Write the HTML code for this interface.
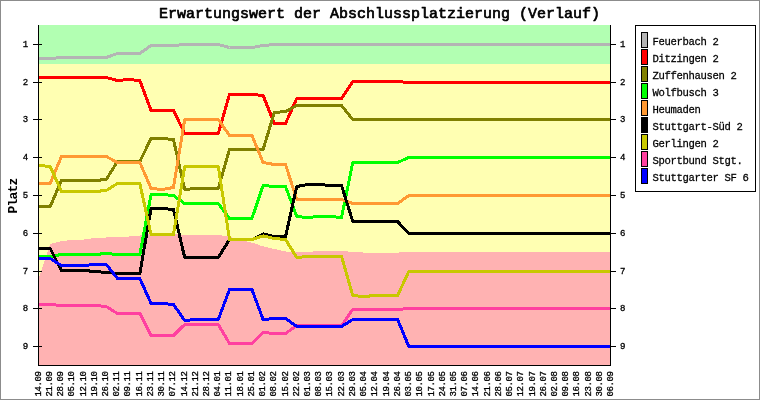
<!DOCTYPE html>
<html><head><meta charset="utf-8"><title>Erwartungswert der Abschlussplatzierung (Verlauf)</title>
<style>html,body{margin:0;padding:0;background:#fff;}svg{display:block;will-change:transform;}text{font-family:"Liberation Mono",monospace;fill:#000;}</style>
</head><body>
<svg width="760" height="400" viewBox="0 0 760 400">
<rect x="0" y="0" width="760" height="400" fill="#ffffff"/>
<g shape-rendering="crispEdges">
<rect x="39" y="25" width="571" height="340" fill="#ffffb2"/>
<rect x="39" y="25" width="571" height="38.5" fill="#b2ffb2"/>
<polygon points="39.00,278.00 50.21,244.00 61.41,241.00 72.62,240.00 83.82,239.50 95.03,238.00 106.24,237.50 117.44,237.00 128.65,236.50 139.85,235.50 151.06,234.00 162.26,233.00 173.47,233.50 184.68,235.00 195.88,235.00 207.09,235.00 218.29,235.00 229.50,236.60 240.71,240.30 251.91,242.60 263.12,246.40 274.32,249.00 285.53,251.50 296.74,251.80 307.94,251.55 319.15,251.45 330.35,251.45 341.56,251.45 352.76,251.55 363.97,252.55 375.18,252.55 386.38,252.55 397.59,252.55 408.79,252.00 420.00,252.00 431.21,252.00 442.41,252.00 453.62,252.00 464.82,252.00 476.03,252.00 487.24,252.00 498.44,252.00 509.65,252.00 520.85,252.00 532.06,252.00 543.26,252.00 554.47,252.00 565.68,252.00 576.88,252.00 588.09,252.00 599.29,252.00 610.50,252.00 610,365 39,365" fill="#ffb2b2"/>
</g>
<g fill="none" stroke-width="3" stroke-linejoin="round" stroke-linecap="butt" shape-rendering="crispEdges">
<polyline stroke="#b4b4b4" points="39.00,58.50 50.21,58.50 61.41,57.50 72.62,57.50 83.82,57.50 95.03,57.50 106.24,57.50 117.44,53.50 128.65,53.50 139.85,53.50 151.06,45.50 162.26,45.50 173.47,45.50 184.68,44.50 195.88,44.50 207.09,44.50 218.29,44.50 229.50,47.50 240.71,47.50 251.91,47.50 263.12,45.50 274.32,44.50 285.53,44.50 296.74,44.50 307.94,44.50 319.15,44.50 330.35,44.50 341.56,44.50 352.76,44.50 363.97,44.50 375.18,44.50 386.38,44.50 397.59,44.50 408.79,44.50 420.00,44.50 431.21,44.50 442.41,44.50 453.62,44.50 464.82,44.50 476.03,44.50 487.24,44.50 498.44,44.50 509.65,44.50 520.85,44.50 532.06,44.50 543.26,44.50 554.47,44.50 565.68,44.50 576.88,44.50 588.09,44.50 599.29,44.50 610.50,44.50"/>
<polyline stroke="#ff0000" points="39.00,77.50 50.21,77.50 61.41,77.50 72.62,77.50 83.82,77.50 95.03,77.50 106.24,77.50 117.44,80.50 128.65,79.50 139.85,80.50 151.06,110.50 162.26,110.50 173.47,110.50 184.68,133.50 195.88,133.50 207.09,133.50 218.29,133.50 229.50,94.50 240.71,94.50 251.91,94.50 263.12,95.50 274.32,123.50 285.53,123.50 296.74,98.50 307.94,98.50 319.15,98.50 330.35,98.50 341.56,98.50 352.76,81.50 363.97,81.50 375.18,81.50 386.38,81.50 397.59,81.50 408.79,82.50 420.00,82.50 431.21,82.50 442.41,82.50 453.62,82.50 464.82,82.50 476.03,82.50 487.24,82.50 498.44,82.50 509.65,82.50 520.85,82.50 532.06,82.50 543.26,82.50 554.47,82.50 565.68,82.50 576.88,82.50 588.09,82.50 599.29,82.50 610.50,82.50"/>
<polyline stroke="#808000" points="39.00,206.50 50.21,206.50 61.41,180.50 72.62,180.50 83.82,180.50 95.03,180.50 106.24,179.50 117.44,161.50 128.65,161.50 139.85,161.50 151.06,138.50 162.26,138.50 173.47,139.50 184.68,189.50 195.88,188.50 207.09,188.50 218.29,188.50 229.50,149.50 240.71,149.50 251.91,149.50 263.12,149.50 274.32,112.50 285.53,111.50 296.74,105.50 307.94,105.50 319.15,105.50 330.35,105.50 341.56,105.50 352.76,119.50 363.97,119.50 375.18,119.50 386.38,119.50 397.59,119.50 408.79,119.50 420.00,119.50 431.21,119.50 442.41,119.50 453.62,119.50 464.82,119.50 476.03,119.50 487.24,119.50 498.44,119.50 509.65,119.50 520.85,119.50 532.06,119.50 543.26,119.50 554.47,119.50 565.68,119.50 576.88,119.50 588.09,119.50 599.29,119.50 610.50,119.50"/>
<polyline stroke="#00ff00" points="39.00,256.50 50.21,256.50 61.41,254.50 72.62,254.50 83.82,254.50 95.03,254.50 106.24,253.50 117.44,254.50 128.65,254.50 139.85,254.50 151.06,194.50 162.26,194.50 173.47,195.50 184.68,203.50 195.88,203.50 207.09,203.50 218.29,203.50 229.50,218.50 240.71,218.50 251.91,218.50 263.12,185.50 274.32,186.50 285.53,186.50 296.74,216.50 307.94,217.50 319.15,216.50 330.35,216.50 341.56,217.50 352.76,162.50 363.97,162.50 375.18,162.50 386.38,162.50 397.59,162.50 408.79,157.50 420.00,157.50 431.21,157.50 442.41,157.50 453.62,157.50 464.82,157.50 476.03,157.50 487.24,157.50 498.44,157.50 509.65,157.50 520.85,157.50 532.06,157.50 543.26,157.50 554.47,157.50 565.68,157.50 576.88,157.50 588.09,157.50 599.29,157.50 610.50,157.50"/>
<polyline stroke="#ff9933" points="39.00,183.50 50.21,183.50 61.41,156.50 72.62,156.50 83.82,156.50 95.03,156.50 106.24,156.50 117.44,162.50 128.65,162.50 139.85,162.50 151.06,188.50 162.26,189.50 173.47,187.50 184.68,119.50 195.88,119.50 207.09,119.50 218.29,119.50 229.50,135.50 240.71,135.50 251.91,135.50 263.12,162.50 274.32,164.50 285.53,164.50 296.74,199.50 307.94,199.50 319.15,199.50 330.35,199.50 341.56,199.50 352.76,203.50 363.97,203.50 375.18,203.50 386.38,203.50 397.59,203.50 408.79,195.50 420.00,195.50 431.21,195.50 442.41,195.50 453.62,195.50 464.82,195.50 476.03,195.50 487.24,195.50 498.44,195.50 509.65,195.50 520.85,195.50 532.06,195.50 543.26,195.50 554.47,195.50 565.68,195.50 576.88,195.50 588.09,195.50 599.29,195.50 610.50,195.50"/>
<polyline stroke="#000000" points="39.00,248.50 50.21,248.50 61.41,270.50 72.62,270.50 83.82,270.50 95.03,271.50 106.24,272.50 117.44,273.50 128.65,273.50 139.85,273.50 151.06,208.50 162.26,208.50 173.47,209.50 184.68,257.50 195.88,257.50 207.09,257.50 218.29,257.50 229.50,239.50 240.71,239.50 251.91,239.50 263.12,233.90 274.32,236.50 285.53,236.50 296.74,186.50 307.94,184.50 319.15,184.50 330.35,185.50 341.56,185.50 352.76,221.50 363.97,221.50 375.18,221.50 386.38,221.50 397.59,221.50 408.79,233.50 420.00,233.50 431.21,233.50 442.41,233.50 453.62,233.50 464.82,233.50 476.03,233.50 487.24,233.50 498.44,233.50 509.65,233.50 520.85,233.50 532.06,233.50 543.26,233.50 554.47,233.50 565.68,233.50 576.88,233.50 588.09,233.50 599.29,233.50 610.50,233.50"/>
<polyline stroke="#c8c800" points="39.00,165.50 50.21,166.50 61.41,191.50 72.62,191.50 83.82,191.50 95.03,191.50 106.24,190.50 117.44,183.50 128.65,183.50 139.85,183.50 151.06,234.50 162.26,234.50 173.47,234.50 184.68,166.50 195.88,166.50 207.09,166.50 218.29,166.50 229.50,239.50 240.71,239.50 251.91,239.50 263.12,235.90 274.32,238.50 285.53,239.50 296.74,257.50 307.94,256.50 319.15,256.50 330.35,256.50 341.56,256.50 352.76,295.50 363.97,296.50 375.18,295.50 386.38,295.50 397.59,295.50 408.79,271.50 420.00,271.50 431.21,271.50 442.41,271.50 453.62,271.50 464.82,271.50 476.03,271.50 487.24,271.50 498.44,271.50 509.65,271.50 520.85,271.50 532.06,271.50 543.26,271.50 554.47,271.50 565.68,271.50 576.88,271.50 588.09,271.50 599.29,271.50 610.50,271.50"/>
<polyline stroke="#ff40a0" points="39.00,304.50 50.21,304.50 61.41,305.50 72.62,305.50 83.82,305.50 95.03,305.50 106.24,306.50 117.44,313.50 128.65,313.50 139.85,313.50 151.06,335.50 162.26,335.50 173.47,335.50 184.68,324.50 195.88,324.50 207.09,324.50 218.29,324.50 229.50,343.50 240.71,343.50 251.91,343.50 263.12,332.50 274.32,333.50 285.53,333.50 296.74,325.50 307.94,325.50 319.15,325.50 330.35,325.50 341.56,325.50 352.76,309.50 363.97,309.50 375.18,309.50 386.38,309.50 397.59,309.50 408.79,308.50 420.00,308.50 431.21,308.50 442.41,308.50 453.62,308.50 464.82,308.50 476.03,308.50 487.24,308.50 498.44,308.50 509.65,308.50 520.85,308.50 532.06,308.50 543.26,308.50 554.47,308.50 565.68,308.50 576.88,308.50 588.09,308.50 599.29,308.50 610.50,308.50"/>
<polyline stroke="#0000ff" points="39.00,258.50 50.21,258.50 61.41,265.50 72.62,265.50 83.82,265.50 95.03,264.50 106.24,264.50 117.44,278.50 128.65,278.50 139.85,278.50 151.06,303.50 162.26,303.50 173.47,304.50 184.68,320.50 195.88,319.50 207.09,319.50 218.29,319.50 229.50,289.50 240.71,289.50 251.91,289.50 263.12,319.50 274.32,318.50 285.53,318.50 296.74,326.50 307.94,326.50 319.15,326.50 330.35,326.50 341.56,326.50 352.76,319.50 363.97,319.50 375.18,319.50 386.38,319.50 397.59,319.50 408.79,346.50 420.00,346.50 431.21,346.50 442.41,346.50 453.62,346.50 464.82,346.50 476.03,346.50 487.24,346.50 498.44,346.50 509.65,346.50 520.85,346.50 532.06,346.50 543.26,346.50 554.47,346.50 565.68,346.50 576.88,346.50 588.09,346.50 599.29,346.50 610.50,346.50"/>
</g>
<g shape-rendering="crispEdges" fill="#000">
<rect x="38" y="25" width="1" height="341"/>
<rect x="610" y="25" width="1" height="341"/>
<rect x="38" y="365" width="573" height="1"/>
<rect x="33" y="44" width="9" height="1"/>
<rect x="610" y="44" width="6" height="1"/>
<rect x="33" y="82" width="9" height="1"/>
<rect x="610" y="82" width="6" height="1"/>
<rect x="33" y="119" width="9" height="1"/>
<rect x="610" y="119" width="6" height="1"/>
<rect x="33" y="157" width="9" height="1"/>
<rect x="610" y="157" width="6" height="1"/>
<rect x="33" y="195" width="9" height="1"/>
<rect x="610" y="195" width="6" height="1"/>
<rect x="33" y="233" width="9" height="1"/>
<rect x="610" y="233" width="6" height="1"/>
<rect x="33" y="271" width="9" height="1"/>
<rect x="610" y="271" width="6" height="1"/>
<rect x="33" y="308" width="9" height="1"/>
<rect x="610" y="308" width="6" height="1"/>
<rect x="33" y="346" width="9" height="1"/>
<rect x="610" y="346" width="6" height="1"/>
</g>
<g font-size="9" stroke="#000" stroke-width="0.3">
<text x="28.2" y="47" text-anchor="end">1</text>
<text x="620" y="47">1</text>
<text x="28.2" y="85" text-anchor="end">2</text>
<text x="620" y="85">2</text>
<text x="28.2" y="122" text-anchor="end">3</text>
<text x="620" y="122">3</text>
<text x="28.2" y="160" text-anchor="end">4</text>
<text x="620" y="160">4</text>
<text x="28.2" y="198" text-anchor="end">5</text>
<text x="620" y="198">5</text>
<text x="28.2" y="236" text-anchor="end">6</text>
<text x="620" y="236">6</text>
<text x="28.2" y="274" text-anchor="end">7</text>
<text x="620" y="274">7</text>
<text x="28.2" y="311" text-anchor="end">8</text>
<text x="620" y="311">8</text>
<text x="28.2" y="349" text-anchor="end">9</text>
<text x="620" y="349">9</text>
</g>
<g font-size="9" stroke="#000" stroke-width="0.3" letter-spacing="-0.4">
<text transform="translate(40.6,396.5) rotate(-90)">14.09</text>
<text transform="translate(51.8,396.5) rotate(-90)">21.09</text>
<text transform="translate(63.1,396.5) rotate(-90)">28.09</text>
<text transform="translate(74.3,396.5) rotate(-90)">05.10</text>
<text transform="translate(85.5,396.5) rotate(-90)">12.10</text>
<text transform="translate(96.7,396.5) rotate(-90)">19.10</text>
<text transform="translate(107.9,396.5) rotate(-90)">26.10</text>
<text transform="translate(119.2,396.5) rotate(-90)">02.11</text>
<text transform="translate(130.4,396.5) rotate(-90)">09.11</text>
<text transform="translate(141.6,396.5) rotate(-90)">16.11</text>
<text transform="translate(152.8,396.5) rotate(-90)">23.11</text>
<text transform="translate(164.1,396.5) rotate(-90)">30.11</text>
<text transform="translate(175.3,396.5) rotate(-90)">07.12</text>
<text transform="translate(186.5,396.5) rotate(-90)">14.12</text>
<text transform="translate(197.8,396.5) rotate(-90)">21.12</text>
<text transform="translate(209.0,396.5) rotate(-90)">28.12</text>
<text transform="translate(220.2,396.5) rotate(-90)">04.01</text>
<text transform="translate(231.4,396.5) rotate(-90)">11.01</text>
<text transform="translate(242.6,396.5) rotate(-90)">18.01</text>
<text transform="translate(253.9,396.5) rotate(-90)">25.01</text>
<text transform="translate(265.1,396.5) rotate(-90)">01.02</text>
<text transform="translate(276.3,396.5) rotate(-90)">08.02</text>
<text transform="translate(287.6,396.5) rotate(-90)">15.02</text>
<text transform="translate(298.8,396.5) rotate(-90)">22.02</text>
<text transform="translate(310.0,396.5) rotate(-90)">01.03</text>
<text transform="translate(321.2,396.5) rotate(-90)">08.03</text>
<text transform="translate(332.4,396.5) rotate(-90)">15.03</text>
<text transform="translate(343.7,396.5) rotate(-90)">22.03</text>
<text transform="translate(354.9,396.5) rotate(-90)">29.03</text>
<text transform="translate(366.1,396.5) rotate(-90)">05.04</text>
<text transform="translate(377.4,396.5) rotate(-90)">12.04</text>
<text transform="translate(388.6,396.5) rotate(-90)">19.04</text>
<text transform="translate(399.8,396.5) rotate(-90)">26.04</text>
<text transform="translate(411.0,396.5) rotate(-90)">03.05</text>
<text transform="translate(422.2,396.5) rotate(-90)">10.05</text>
<text transform="translate(433.5,396.5) rotate(-90)">17.05</text>
<text transform="translate(444.7,396.5) rotate(-90)">24.05</text>
<text transform="translate(455.9,396.5) rotate(-90)">31.05</text>
<text transform="translate(467.2,396.5) rotate(-90)">07.06</text>
<text transform="translate(478.4,396.5) rotate(-90)">14.06</text>
<text transform="translate(489.6,396.5) rotate(-90)">21.06</text>
<text transform="translate(500.8,396.5) rotate(-90)">28.06</text>
<text transform="translate(512.0,396.5) rotate(-90)">05.07</text>
<text transform="translate(523.3,396.5) rotate(-90)">12.07</text>
<text transform="translate(534.5,396.5) rotate(-90)">19.07</text>
<text transform="translate(545.7,396.5) rotate(-90)">26.07</text>
<text transform="translate(557.0,396.5) rotate(-90)">02.08</text>
<text transform="translate(568.2,396.5) rotate(-90)">09.08</text>
<text transform="translate(579.4,396.5) rotate(-90)">16.08</text>
<text transform="translate(590.6,396.5) rotate(-90)">23.08</text>
<text transform="translate(601.9,396.5) rotate(-90)">30.08</text>
<text transform="translate(613.1,396.5) rotate(-90)">06.09</text>
</g>
<text x="159" y="18" font-size="15" stroke="#000" stroke-width="0.7" stroke-linejoin="round">Erwartungswert der Abschlussplatzierung (Verlauf)</text>
<text transform="translate(16.5,213.5) rotate(-90)" font-size="13" font-weight="bold" letter-spacing="-0.8">Platz</text>
<g shape-rendering="crispEdges">
<rect x="635.5" y="25.5" width="120" height="166" fill="#fff" stroke="#000" stroke-width="1"/>
<rect x="641.5" y="32.5" width="6" height="15" fill="#b4b4b4" stroke="#000" stroke-width="1"/>
<rect x="641.5" y="49.5" width="6" height="15" fill="#ff0000" stroke="#000" stroke-width="1"/>
<rect x="641.5" y="66.5" width="6" height="15" fill="#808000" stroke="#000" stroke-width="1"/>
<rect x="641.5" y="83.5" width="6" height="15" fill="#00ff00" stroke="#000" stroke-width="1"/>
<rect x="641.5" y="100.5" width="6" height="15" fill="#ff9933" stroke="#000" stroke-width="1"/>
<rect x="641.5" y="117.5" width="6" height="15" fill="#000000" stroke="#000" stroke-width="1"/>
<rect x="641.5" y="134.5" width="6" height="15" fill="#c8c800" stroke="#000" stroke-width="1"/>
<rect x="641.5" y="151.5" width="6" height="15" fill="#ff40a0" stroke="#000" stroke-width="1"/>
<rect x="641.5" y="168.5" width="6" height="15" fill="#0000ff" stroke="#000" stroke-width="1"/>
</g>
<g font-size="10.6" letter-spacing="-0.36" stroke="#000" stroke-width="0.25">
<text transform="translate(652.6,44.9) scale(1,1.08)">Feuerbach 2</text>
<text transform="translate(652.6,61.9) scale(1,1.08)">Ditzingen 2</text>
<text transform="translate(652.6,78.9) scale(1,1.08)">Zuffenhausen 2</text>
<text transform="translate(652.6,95.9) scale(1,1.08)">Wolfbusch 3</text>
<text transform="translate(652.6,112.9) scale(1,1.08)">Heumaden</text>
<text transform="translate(652.6,129.9) scale(1,1.08)">Stuttgart-Süd 2</text>
<text transform="translate(652.6,146.9) scale(1,1.08)">Gerlingen 2</text>
<text transform="translate(652.6,163.9) scale(1,1.08)">Sportbund Stgt.</text>
<text transform="translate(652.6,180.9) scale(1,1.08)">Stuttgarter SF 6</text>
</g>
<rect x="0.5" y="0.5" width="759" height="399" fill="none" stroke="#8c8c8c" stroke-width="1" shape-rendering="crispEdges"/>
</svg>
</body></html>
